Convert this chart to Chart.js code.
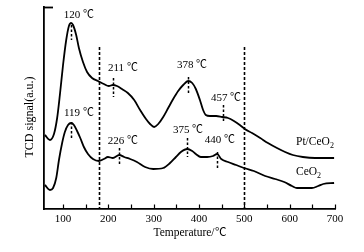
<!DOCTYPE html>
<html>
<head>
<meta charset="utf-8">
<script src="https://cdn.jsdelivr.net/npm/chart.js@4"></script>
<style>
@font-face { font-family: 'DegC'; src: local('Noto Sans CJK SC'), local('NotoSansCJKsc-Regular'), local('Noto Sans CJK SC Regular'); unicode-range: U+2103; }
html,body{margin:0;padding:0;background:#fff;}
#wrap{width:364px;height:252px;position:relative;}
</style>
</head>
<body>
<div id="wrap"><canvas id="c" width="364" height="252"></canvas></div>
<script>
// ---- data ----
const ptTemps = [60,71,80,87,93,100,107,113,118,122,129,135,144,153,164,177,190,201,210,219,230,243,257,270,283,292,301,310,321,332,343,354,365,376,385,393,402,409,415,424,438,451,464,477,490,501,517,535,552,572,590,607,629,656,678,698];
const ptSignal = [74,69,75,91,114,144,169,183,186,184,174,161,147,137,131,128,125,123,124,123,120,116,109,99,90,85,82,85,92,101,110,118,124,128,126,120,109,99,94,93,93,92,91,88,84,80,76,71,66,61,57,54,52,51,51,51];
const ceTemps = [60,71,78,85,91,98,104,111,118,124,131,138,146,155,166,179,190,199,210,224,235,248,263,281,299,321,336,349,360,374,385,393,404,418,431,440,449,464,482,499,521,546,568,588,605,616,634,649,663,674,698];
const ceSignal = [24,19,21,31,49,66,77,84,86,84,78,71,62,55,50,48,50,52,51,54,52,50,47,42,40,41,46,52,57,60,58,55,52,52,53,55,50,47,44,41,38,33,30,27,23,21,21,21,23,25,26];
const seriesNames = ["Pt/CeO2", "CeO2"];
const xTickValues = [100,150,200,250,300,350,400,450,500,550,600,650,700];
const boundaryTemps = [180, 500];
// peak annotations: label text, marker temperature, marker signal span, label anchor
const peakLabels = ["120 ℃","211 ℃","378 ℃","457 ℃","119 ℃","226 ℃","375 ℃","440 ℃"];
const peakMarkT  = [118,210,376,453,118,224,374,440];
const peakMarkTop= [184,131,132,104,87,61,71,57];
const peakMarkBot= [169,112,116,87,71,44,52,41];
const peakLabelT = [135,232,385,460,135,232,376,446];
const peakLabelS = [194,141,144,111,96,68,79,69];
const seriesLabelT = [614,614];
const seriesLabelS = [67,37];
const xTitle = "Temperature/℃";
const yTitle = "TCD signal(a.u.)";

const SERIF = "'DegC','Liberation Serif','Noto Sans CJK SC',serif";

const decor = {
  id: 'decor',
  afterDatasetsDraw(chart) {
    const {ctx, chartArea, scales:{x, y}} = chart;
    ctx.save();
    ctx.strokeStyle = '#000';
    ctx.lineWidth = 1.6;
    ctx.setLineDash([3,2]);
    boundaryTemps.forEach(t => {
      const px = Math.round(x.getPixelForValue(t)) + 0.5;
      ctx.beginPath();
      ctx.moveTo(px, y.getPixelForValue(162));
      ctx.lineTo(px, chartArea.bottom);
      ctx.stroke();
    });
    ctx.lineWidth = 1.5;
    ctx.setLineDash([2.5,2]);
    peakMarkT.forEach((t,i) => {
      const px = Math.round(x.getPixelForValue(t)) + 0.5;
      ctx.beginPath();
      ctx.moveTo(px, y.getPixelForValue(peakMarkTop[i]));
      ctx.lineTo(px, y.getPixelForValue(peakMarkBot[i]));
      ctx.stroke();
    });
    ctx.setLineDash([]);
    ctx.fillStyle = '#000';
    ctx.font = "11px " + SERIF;
    ctx.textAlign = 'center';
    ctx.textBaseline = 'middle';
    peakLabels.forEach((s,i) => {
      ctx.fillText(s, x.getPixelForValue(peakLabelT[i]), y.getPixelForValue(peakLabelS[i]));
    });
    ctx.textAlign = 'left';
    seriesNames.forEach((name,i) => {
      const px = x.getPixelForValue(seriesLabelT[i]);
      const py = y.getPixelForValue(seriesLabelS[i]);
      const base = name.replace(/2$/, '');
      ctx.font = "11.5px " + SERIF;
      ctx.fillText(base, px, py);
      const w = ctx.measureText(base).width;
      ctx.font = "8px " + SERIF;
      ctx.fillText("2", px + w, py + 4);
    });
    ctx.lineWidth = 1.2;
    xTickValues.forEach(v => {
      const px = Math.round(x.getPixelForValue(v)) + 0.5;
      ctx.beginPath();
      ctx.moveTo(px, chartArea.bottom);
      ctx.lineTo(px, chartArea.bottom - 4.5);
      ctx.stroke();
    });
    ctx.lineWidth = 1.8;
    ctx.beginPath();
    ctx.moveTo(chartArea.left, chartArea.top + 0.5);
    ctx.lineTo(chartArea.left + 9, chartArea.top + 0.5);
    ctx.stroke();
    ctx.save();
    ctx.translate(30, 117);
    ctx.rotate(-Math.PI/2);
    ctx.font = "12px " + SERIF;
    ctx.textAlign = 'center';
    ctx.textBaseline = 'middle';
    ctx.fillText(yTitle, 0, 0);
    ctx.restore();
    ctx.restore();
  }
};

const toPts = (ts, vs) => ts.map((t,i) => ({x:t, y:vs[i]}));

function build() {
  new Chart(document.getElementById('c'), {
    type: 'line',
    data: {
      datasets: [
        {label: seriesNames[0], data: toPts(ptTemps, ptSignal), borderColor:'#000', borderWidth:1.8, pointRadius:0, cubicInterpolationMode:'monotone', fill:false},
        {label: seriesNames[1], data: toPts(ceTemps, ceSignal), borderColor:'#000', borderWidth:1.8, pointRadius:0, cubicInterpolationMode:'monotone', fill:false}
      ]
    },
    options: {
      responsive: false,
      animation: false,
      devicePixelRatio: 1,
      layout: {padding: {top: 7, right: 29, left: 0, bottom: 0}},
      plugins: {legend:{display:false}, tooltip:{enabled:false}},
      scales: {
        x: {
          type: 'linear',
          min: 58, max: 700,
          afterBuildTicks: s => { s.ticks = xTickValues.map(v => ({value:v})); },
          afterFit: s => { s.height = 43; },
          grid: {display:false, drawTicks:false},
          border: {display:true, color:'#000', width:1.8},
          ticks: {
            color:'#000', padding:4, maxRotation:0, autoSkip:false,
            font:{family:SERIF, size:11},
            callback: v => (v % 100 === 0 ? String(v) : '')
          },
          title: {display:true, text:xTitle, color:'#000', font:{family:SERIF, size:11.5}, padding:{top:0, bottom:12}}
        },
        y: {
          type: 'linear',
          min: 0, max: 202,
          afterFit: s => { s.width = 44; },
          grid: {display:false, drawTicks:false},
          border: {display:true, color:'#000', width:1.8},
          ticks: {display:false}
        }
      }
    },
    plugins: [decor]
  });
}

const loadDeg = document.fonts ? document.fonts.load("11px 'DegC'", "℃").catch(() => null) : Promise.resolve();
Promise.race([loadDeg, new Promise(r => setTimeout(r, 800))]).then(build, build);
</script>
</body>
</html>
